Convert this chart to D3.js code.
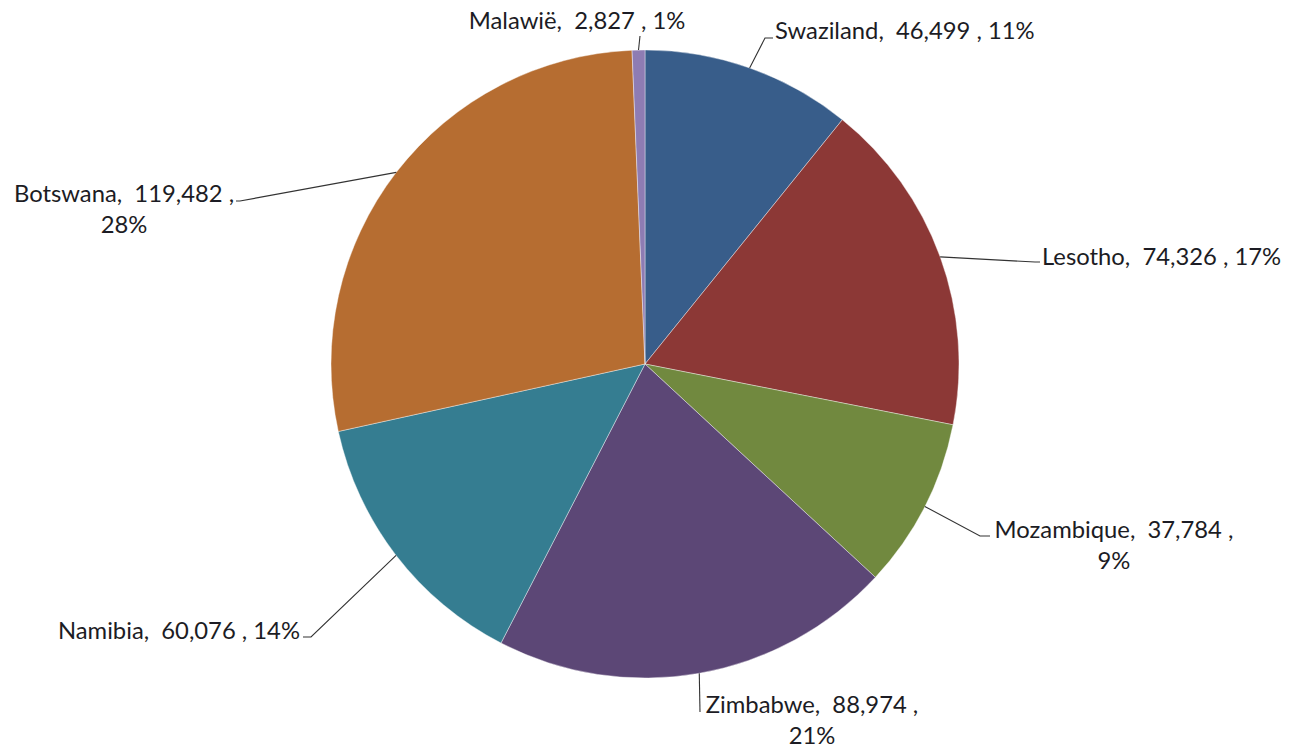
<!DOCTYPE html>
<html><head><meta charset="utf-8">
<script src="https://cdn.jsdelivr.net/npm/d3@7"></script>
<style>
html,body{margin:0;padding:0;background:#fff;}
svg{display:block;}
text{font-family:Lato,"Open Sans",sans-serif;fill:#1c1c24;white-space:pre;}
</style></head>
<body>
<script>
const categories = ["Swaziland","Lesotho","Mozambique","Zimbabwe","Namibia","Botswana","Malawië"];
const values = [46499,74326,37784,88974,60076,119482,2827];
const colors = ["#385d8a","#8c3836","#71893f","#5c4776","#357d91","#b66d31","#8e7cb3"];

// label layout: text anchor point, anchor, elbow point (where leader meets label), line breaks
const labelLayout = {
  "Swaziland": {x:775, y:30, anchor:"start", elbow:[[765,38],[773,38]], lines:1},
  "Lesotho":   {x:1042, y:256, anchor:"start", elbow:[[1035,262],[1040,262]], lines:1},
  "Mozambique":{x:1114, y:529, anchor:"middle", elbow:[[980,536],[990,536]], lines:2},
  "Zimbabwe":  {x:812, y:704, anchor:"middle", elbow:[[700,712]], lines:2},
  "Namibia":   {x:300, y:630, anchor:"end", elbow:[[311,637],[303,637]], lines:1},
  "Botswana":  {x:124, y:193, anchor:"middle", elbow:[[240,201],[236,201]], lines:2},
  "Malawië":   {x:577, y:20, anchor:"middle", elbow:[[640,36]], lines:1}
};

const W = 1295, H = 748;
const cx = 645, cy = 364, R = 314;
const svg = d3.select("body").append("svg").attr("width", W).attr("height", H);
const g = svg.append("g").attr("transform", `translate(${cx},${cy})`);

const data = categories.map((c,i)=>({name:c, value:values[i], color:colors[i]}));
const total = d3.sum(values);
const pie = d3.pie().value(d=>d.value).sort(null);
const arc = d3.arc().innerRadius(0).outerRadius(R);
const arcs = pie(data);

g.selectAll("path.slice").data(arcs).join("path")
  .attr("class","slice")
  .attr("d", arc)
  .attr("fill", d=>d.data.color)
  .attr("stroke", "#ffffff").attr("stroke-width", 0.4);

const fmt = d3.format(",");
const pct = v => Math.round(v/total*100) + "%";

arcs.forEach(a=>{
  const L = labelLayout[a.data.name];
  const mid = (a.startAngle + a.endAngle)/2;
  const p0 = [cx + R*Math.sin(mid), cy - R*Math.cos(mid)];
  const pts = [p0].concat(L.elbow);
  svg.append("path")
    .attr("d", d3.line()(pts))
    .attr("fill","none").attr("stroke","#333").attr("stroke-width",1.1);
  const line1 = `${a.data.name},  ${fmt(a.data.value)} ,`;
  const p = pct(a.data.value);
  const t = svg.append("text")
    .attr("x", L.x).attr("y", L.y)
    .attr("text-anchor", L.anchor)
    .attr("dominant-baseline","central")
    .style("font-size","23.8px");
  if (L.lines === 1) {
    t.text(`${line1} ${p}`);
  } else {
    t.append("tspan").attr("x", L.x).attr("dy", 0).text(line1);
    t.append("tspan").attr("x", L.x).attr("dy", 31).text(p);
  }
});
</script>
</body></html>
